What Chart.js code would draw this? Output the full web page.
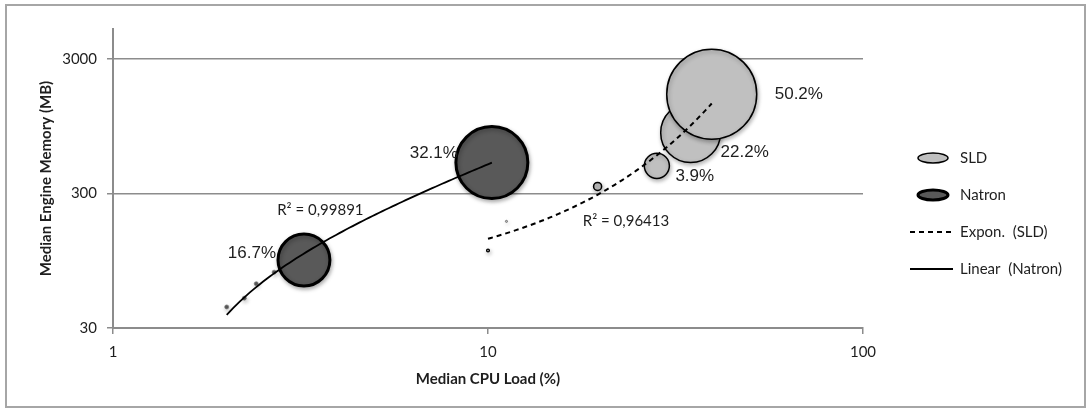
<!DOCTYPE html>
<html>
<head>
<meta charset="utf-8">
<script src="https://cdn.jsdelivr.net/npm/chart.js@4.4.1/dist/chart.umd.min.js"></script>
<style>
    html, body { margin: 0; padding: 0; background: #fff; }
    #wrap { width: 1091px; height: 412px; }
</style>
</head>
<body>
<div id="wrap"><canvas id="bubbleChart" width="1091" height="412"></canvas></div>
<script>
// valeurs : charge CPU (%), mémoire (MB), part (%)
const sldCpu = [10.0, 11.2, 19.6, 28.2, 34.7, 39.5];
const sldMem = [113, 186, 338, 481, 849, 1638];
const sldShare = [0.05, 0.03, 0.4, 3.9, 22.2, 50.2];

const natronCpu = [2.01, 2.24, 2.41, 2.69, 3.23, 10.24];
const natronMem = [43, 50, 64, 78, 96, 509];
const natronShare = [0.1, 0.1, 0.1, 0.1, 16.7, 32.1];

const xTicks = [1, 10, 100];
const yTicks = [30, 300, 3000];
const seriesNames = ['SLD', 'Natron'];
const trendNames = ['Expon.  (SLD)', 'Linear  (Natron)'];
const r2Text = ['R² = 0,96413', 'R² = 0,99891'];

const maxShare = 50.2;
const maxRadius = 45;

function toBubbles(xs, ys, sizes) {
    return xs.map((x, i) => ({ x: x, y: ys[i], r: Math.sqrt(sizes[i] / maxShare) * maxRadius, share: sizes[i] }));
}

// courbes de tendance (moindres carrés, comme Excel)
function linearFit(xs, ys) {
    const n = xs.length;
    const mx = xs.reduce((a, b) => a + b, 0) / n;
    const my = ys.reduce((a, b) => a + b, 0) / n;
    let sxy = 0, sxx = 0;
    xs.forEach((x, i) => { sxy += (x - mx) * (ys[i] - my); sxx += (x - mx) * (x - mx); });
    const b = sxy / sxx;
    return x => my - b * mx + b * x;
}

function expFit(xs, ys) {
    const f = linearFit(xs, ys.map(y => Math.log(y)));
    return x => Math.exp(f(x));
}

function sampleCurve(fn, xs) {
    const lo = Math.log10(Math.min(...xs));
    const hi = Math.log10(Math.max(...xs));
    const pts = [];
    for (let i = 0; i <= 80; i++) {
        const x = Math.pow(10, lo + (hi - lo) * i / 80);
        pts.push({ x: x, y: fn(x) });
    }
    return pts;
}

const sldTrend = sampleCurve(expFit(sldCpu, sldMem), sldCpu);
const natronTrend = sampleCurve(linearFit(natronCpu, natronMem), natronCpu);

const axisGrey = '#8c8c8c';
const textColor = '#1e1e1e';

const decor = {
    id: 'decor',
    beforeDraw(chart) {
        const ctx = chart.ctx;
        ctx.save();
        ctx.strokeStyle = '#a6a6a6';
        ctx.lineWidth = 2;
        ctx.strokeRect(6, 5, 1079, 402);
        ctx.restore();
    },
    beforeDatasetDraw(chart, args) {
        if (args.meta.type !== 'bubble') return;
        const ctx = chart.ctx;
        ctx.save();
        ctx.shadowColor = 'rgba(0,0,0,0.3)';
        ctx.shadowBlur = 4;
        ctx.shadowOffsetX = 1;
        ctx.shadowOffsetY = 2;
    },
    afterDatasetDraw(chart, args) {
        if (args.meta.type !== 'bubble') return;
        chart.ctx.restore();
    },
    afterDatasetsDraw(chart, args, opts) {
        const ctx = chart.ctx;
        ctx.save();
        ctx.fillStyle = textColor;
        ctx.textBaseline = 'middle';
        // étiquettes des bulles
        ctx.font = '17px "Liberation Sans", Arial, sans-serif';
        [0, 1].forEach(di => {
            const meta = chart.getDatasetMeta(di);
            const raw = chart.data.datasets[di].data;
            meta.data.forEach((el, i) => {
                if (raw[i].share < 1) return;
                const nudge = opts.nudge[di][i];
                if (di === 0) {
                    ctx.textAlign = 'left';
                    ctx.fillText(raw[i].share + '%', el.x + raw[i].r + nudge[0], el.y + nudge[1]);
                } else {
                    ctx.textAlign = 'right';
                    ctx.fillText(raw[i].share + '%', el.x - raw[i].r + nudge[0], el.y + nudge[1]);
                }
            });
        });
        // R²
        ctx.font = '15px Lato, sans-serif';
        ctx.textAlign = 'left';
        const xs = chart.scales.x, ys = chart.scales.y;
        opts.r2At.forEach((p, i) => {
            ctx.fillText(r2Text[i], xs.getPixelForValue(p[0]), ys.getPixelForValue(p[1]));
        });
        ctx.restore();
    },
    afterDraw(chart, args, opts) {
        const ctx = chart.ctx;
        const left = chart.chartArea.right + opts.legendX;
        let y = opts.legendY;
        ctx.save();
        ctx.font = '15px Lato, sans-serif';
        ctx.textBaseline = 'middle';
        ctx.textAlign = 'left';
        const items = [
            { text: seriesNames[0], kind: 'bubble', ds: 0 },
            { text: seriesNames[1], kind: 'bubble', ds: 1 },
            { text: trendNames[0], kind: 'line', ds: 2 },
            { text: trendNames[1], kind: 'line', ds: 3 }
        ];
        items.forEach(it => {
            const d = chart.data.datasets[it.ds];
            if (it.kind === 'bubble') {
                ctx.beginPath();
                ctx.ellipse(left + 23, y, 15, 5, 0, 0, Math.PI * 2);
                ctx.fillStyle = d.backgroundColor;
                ctx.fill();
                ctx.lineWidth = it.ds === 1 ? 3 : 1.5;
                ctx.strokeStyle = '#000';
                ctx.stroke();
            } else {
                ctx.beginPath();
                ctx.setLineDash(d.borderDash || []);
                ctx.moveTo(left, y);
                ctx.lineTo(left + 43, y);
                ctx.lineWidth = d.borderWidth;
                ctx.strokeStyle = '#000';
                ctx.stroke();
                ctx.setLineDash([]);
            }
            ctx.fillStyle = textColor;
            ctx.fillText(it.text, left + 50, y);
            y += opts.legendStep;
        });
        ctx.restore();
    }
};

Chart.defaults.font.family = 'Lato, sans-serif';
Chart.defaults.color = textColor;

new Chart(document.getElementById('bubbleChart'), {
    type: 'bubble',
    data: {
        datasets: [
            {
                label: seriesNames[0],
                data: toBubbles(sldCpu, sldMem, sldShare),
                backgroundColor: '#c0c0c0',
                borderColor: '#000',
                borderWidth: c => {
                    if (!c.raw) return 1.5;
                    if (c.raw.r < 1.3) return 0.4;
                    return c.raw.r < 2 ? 1.3 : 1.5;
                },
                order: 1
            },
            {
                label: seriesNames[1],
                data: toBubbles(natronCpu, natronMem, natronShare),
                backgroundColor: '#595959',
                borderColor: c => (c.raw && c.raw.r < 5 ? '#777' : '#000'),
                borderWidth: c => (c.raw && c.raw.r < 5 ? 0.7 : 3),
                order: 1
            },
            {
                type: 'line',
                label: trendNames[0],
                data: sldTrend,
                borderColor: '#000',
                borderWidth: 2,
                borderDash: [5, 4],
                pointRadius: 0,
                fill: false,
                order: 0
            },
            {
                type: 'line',
                label: trendNames[1],
                data: natronTrend,
                borderColor: '#000',
                borderWidth: 1.8,
                pointRadius: 0,
                fill: false,
                order: 0
            }
        ]
    },
    options: {
        responsive: false,
        animation: false,
        layout: { autoPadding: false, padding: { top: 29, left: 20, right: 228, bottom: 10 } },
        plugins: {
            legend: { display: false },
            tooltip: { enabled: false },
            decor: {
                nudge: [
                    [[0, 0], [0, 0], [0, 0], [6, 10], [0, 20], [18, 0]],
                    [[0, 0], [0, 0], [0, 0], [0, 0], [-2, -7], [2, -9]]
                ],
                r2At: [[17.9, 186], [2.74, 224]],
                legendX: 47,
                legendY: 158,
                legendStep: 37
            }
        },
        scales: {
            x: {
                type: 'logarithmic',
                min: 1,
                max: 100,
                afterBuildTicks: axis => { axis.ticks = xTicks.map(v => ({ value: v })); },
                afterFit: axis => { axis.height = 74; },
                ticks: {
                    callback: v => String(v),
                    font: { size: 15 },
                    color: textColor,
                    padding: 9,
                    maxRotation: 0
                },
                grid: {
                    drawOnChartArea: false,
                    color: axisGrey,
                    lineWidth: 1.5,
                    tickLength: 6
                },
                border: { color: axisGrey, width: 2 },
                title: {
                    display: true,
                    text: 'Median CPU Load (%)',
                    font: { size: 15, weight: 'bold' },
                    color: textColor,
                    padding: { bottom: 14 }
                }
            },
            y: {
                type: 'logarithmic',
                min: 30,
                max: 5000,
                afterBuildTicks: axis => { axis.ticks = yTicks.map(v => ({ value: v })); },
                afterFit: axis => { axis.width = 93; },
                ticks: {
                    callback: v => String(v),
                    font: { size: 15 },
                    color: textColor,
                    padding: 10
                },
                grid: {
                    color: axisGrey,
                    lineWidth: 1.5,
                    tickLength: 6
                },
                border: { color: axisGrey, width: 2 },
                title: {
                    display: true,
                    text: 'Median Engine Memory (MB)',
                    font: { size: 15, weight: 'bold' },
                    color: textColor,
                    padding: { top: 17 }
                }
            }
        }
    },
    plugins: [decor]
});
</script>
</body>
</html>
